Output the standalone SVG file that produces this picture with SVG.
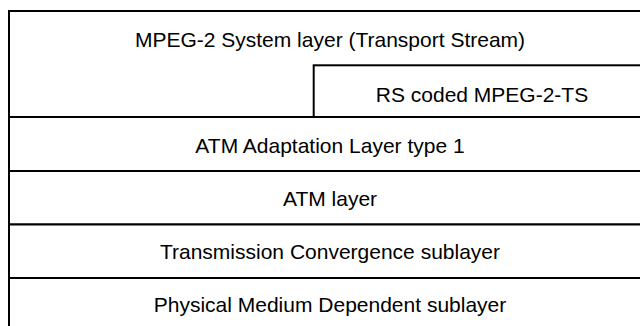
<svg xmlns="http://www.w3.org/2000/svg" width="640" height="326" viewBox="0 0 640 326">
  <style>
    .box { fill: #ffffff; stroke: #000000; stroke-width: 2; }
    .lbl { font-family: "Liberation Sans", Arial, Helvetica, sans-serif; font-size: 21px; fill: #000000; text-anchor: middle; }
  </style>
  <rect x="0" y="0" width="640" height="326" fill="#ffffff"/>
  <g id="mpeg2-system">
    <rect class="box" x="9" y="11" width="645" height="106"/>
    <text class="lbl" x="330" y="46.5">MPEG-2 System layer (Transport Stream)</text>
  </g>
  <g id="rs-coded">
    <rect class="box" x="313.7" y="65.3" width="340" height="51.7"/>
    <text class="lbl" x="482" y="101.5">RS coded MPEG-2-TS</text>
  </g>
  <g id="aal1">
    <rect class="box" x="9" y="117" width="645" height="54"/>
    <text class="lbl" x="330" y="152.5">ATM Adaptation Layer type 1</text>
  </g>
  <g id="atm">
    <rect class="box" x="9" y="171" width="645" height="53.5"/>
    <text class="lbl" x="330" y="206">ATM layer</text>
  </g>
  <g id="tc">
    <rect class="box" x="9" y="224.5" width="645" height="53.5"/>
    <text class="lbl" x="330" y="259">Transmission Convergence sublayer</text>
  </g>
  <g id="pmd">
    <rect class="box" x="9" y="278" width="645" height="60"/>
    <text class="lbl" x="330" y="311.7">Physical Medium Dependent sublayer</text>
  </g>
</svg>
